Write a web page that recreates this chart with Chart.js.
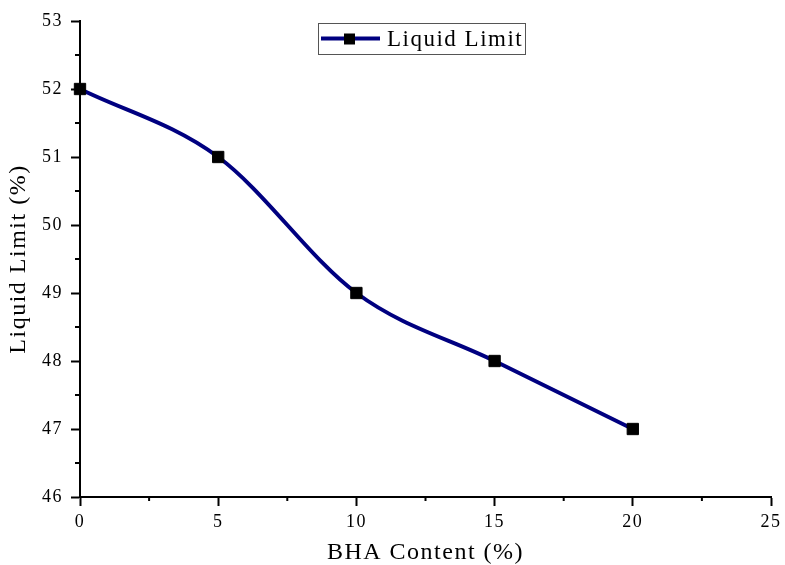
<!doctype html>
<html lang="en">
  <head>
    <meta charset="UTF-8" />
    <title>Liquid Limit</title>
    <script src="https://cdn.jsdelivr.net/npm/chart.js"></script>
    <style>
      html, body { margin: 0; padding: 0; background: #fff; }
      #wrap { width: 785px; height: 565px; }
    </style>
  </head>
  <body>
    <div id="wrap"><canvas id="grafico"></canvas></div>

    <script>
      // dados
      const bhaContent = [0, 5, 10, 15, 20];
      const liquidLimit = [52, 51, 49, 48, 47];
      const serieNome = "Liquid Limit";
      const xTitulo = "BHA Content (%)";
      const yTitulo = "Liquid Limit (%)";

      const fonte = "'Liberation Serif', 'Times New Roman', serif";
      const azul = "#000080";

      // texto do original e um pouco mais largo
      const espacamento = {
        id: "espacamento",
        beforeDraw(chart) {
          chart.ctx.letterSpacing = "1.5px";
        },
      };

      // ticks menores (entre os maiores)
      const minorTicks = {
        id: "minorTicks",
        afterDraw(chart) {
          const ctx = chart.ctx;
          const xs = chart.scales.x, ys = chart.scales.y;
          ctx.save();
          ctx.strokeStyle = "#000";
          ctx.lineWidth = 2;
          for (let v = 2.5; v < 25; v += 5) {
            const px = xs.getPixelForValue(v);
            ctx.beginPath();
            ctx.moveTo(px, xs.top);
            ctx.lineTo(px, xs.top + 4);
            ctx.stroke();
          }
          for (let v = 46.5; v < 53; v += 1) {
            const py = ys.getPixelForValue(v);
            ctx.beginPath();
            ctx.moveTo(ys.right, py);
            ctx.lineTo(ys.right - 5, py);
            ctx.stroke();
          }
          ctx.restore();
        },
      };

      // legenda com caixa, linha e marcador
      const legendaCaixa = {
        id: "legendaCaixa",
        afterDraw(chart) {
          const ctx = chart.ctx;
          const a = chart.chartArea;
          const x0 = a.left + 238, y0 = a.top + 2;
          const w = 207, h = 31;
          ctx.save();
          ctx.fillStyle = "#fff";
          ctx.fillRect(x0, y0, w, h);
          ctx.strokeStyle = "#555";
          ctx.lineWidth = 1;
          ctx.strokeRect(x0 + 0.5, y0 + 0.5, w, h);
          const cy = y0 + h / 2;
          ctx.strokeStyle = azul;
          ctx.lineWidth = 4;
          ctx.beginPath();
          ctx.moveTo(x0 + 3, cy);
          ctx.lineTo(x0 + 62, cy);
          ctx.stroke();
          ctx.fillStyle = "#000";
          ctx.fillRect(x0 + 26, cy - 5, 11, 11);
          ctx.font = "23px " + fonte;
          ctx.letterSpacing = "1.5px";
          ctx.textBaseline = "middle";
          ctx.fillText(chart.data.datasets[0].label, x0 + 69, cy + 1);
          ctx.restore();
        },
      };

      const pontos = bhaContent.map((x, i) => ({ x: x, y: liquidLimit[i] }));

      new Chart(document.getElementById("grafico"), {
        type: "line",
        data: {
          datasets: [
            {
              label: serieNome,
              data: pontos,
              borderColor: azul,
              borderWidth: 4,
              cubicInterpolationMode: "monotone",
              clip: false,
              pointStyle: "rect",
              pointRadius: 8,
              pointBackgroundColor: "#000",
              pointBorderColor: "#000",
              pointBorderWidth: 1,
            },
          ],
        },
        plugins: [espacamento, minorTicks, legendaCaixa],
        options: {
          responsive: true,
          maintainAspectRatio: false,
          animation: false,
          layout: { padding: { top: 21, right: 12, left: 0, bottom: 0 } },
          plugins: { legend: { display: false }, tooltip: { enabled: false } },
          scales: {
            x: {
              type: "linear",
              min: 0,
              max: 25,
              afterFit(s) { s.height = 68; },
              border: { display: true, color: "#000", width: 2 },
              grid: { drawOnChartArea: false, drawTicks: true, tickLength: 9, tickWidth: 2, tickColor: "#000" },
              ticks: { stepSize: 5, color: "#000", padding: 5, font: { family: fonte, size: 18 } },
              title: { display: true, text: xTitulo, color: "#000", padding: { top: 0, bottom: 0 }, font: { family: fonte, size: 24, lineHeight: 1 } },
            },
            y: {
              min: 46,
              max: 53,
              afterFit(s) { s.width = 80; },
              border: { display: true, color: "#000", width: 2 },
              grid: { drawOnChartArea: false, drawTicks: true, tickLength: 9, tickWidth: 2, tickColor: "#000" },
              ticks: { stepSize: 1, color: "#000", padding: 8, font: { family: fonte, size: 18 } },
              title: { display: true, text: yTitulo, color: "#000", padding: { top: 7, bottom: 0 }, font: { family: fonte, size: 24, lineHeight: 1 } },
            },
          },
        },
      });
    </script>
  </body>
</html>
